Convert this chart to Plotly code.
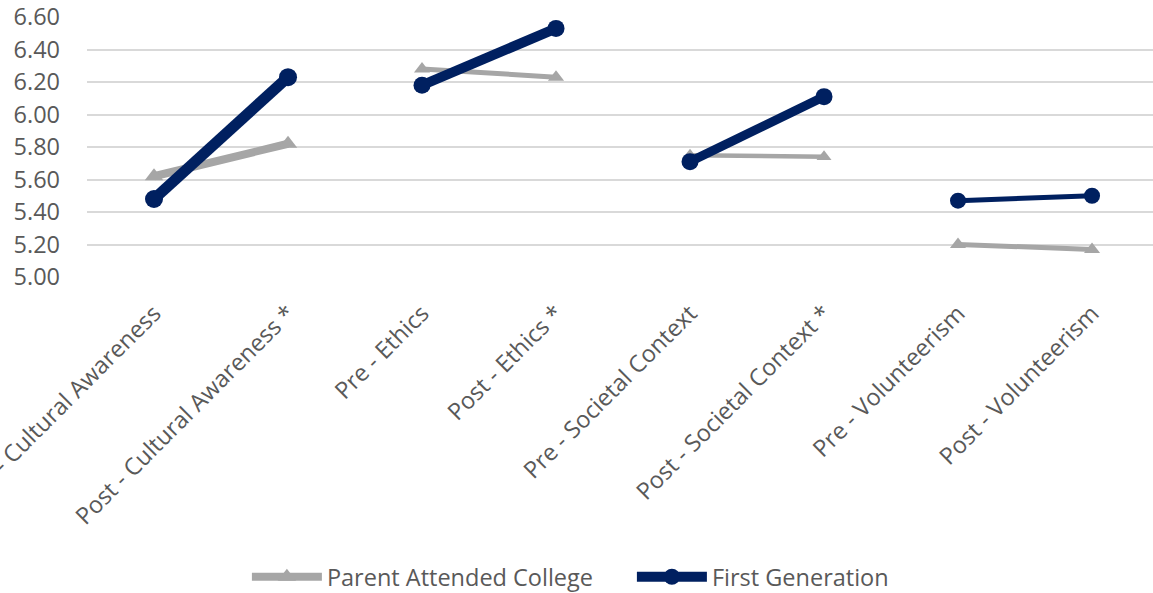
import plotly.graph_objects as go

# Survey means, pre/post pairs per domain
categories = [
    "Pre - Cultural Awareness", "Post - Cultural Awareness *",
    "Pre - Ethics", "Post - Ethics *",
    "Pre - Societal Context", "Post - Societal Context *",
    "Pre - Volunteerism", "Post - Volunteerism",
]
parent_attended = [5.62, 5.82, 6.28, 6.23, 5.75, 5.74, 5.20, 5.17]
first_generation = [5.48, 6.23, 6.18, 6.53, 5.71, 6.11, 5.47, 5.50]
y_ticks = [5.00, 5.20, 5.40, 5.60, 5.80, 6.00, 6.20, 6.40, 6.60]

GRAY = "#A6A6A6"
NAVY = "#002060"
TEXT = "#595959"
FONT = "'Open Sans', sans-serif"

# line width of each pre/post segment
gray_widths = [8, 5, 4.5, 5]
navy_widths = [11, 10, 9, 5]
gray_marker = [16, 14, 13, 14]
navy_marker = [18, 17, 17, 16]

fig = go.Figure()

for i in range(4):
    fig.add_trace(go.Scatter(
        x=categories[2 * i:2 * i + 2], y=parent_attended[2 * i:2 * i + 2],
        mode="lines+markers", name="Parent Attended College",
        legendgroup="parent", showlegend=(i == 0),
        line=dict(color=GRAY, width=gray_widths[i]),
        marker=dict(symbol="triangle-up", size=gray_marker[i], color=GRAY),
    ))
for i in range(4):
    fig.add_trace(go.Scatter(
        x=categories[2 * i:2 * i + 2], y=first_generation[2 * i:2 * i + 2],
        mode="lines+markers", name="First Generation",
        legendgroup="first", showlegend=(i == 0),
        line=dict(color=NAVY, width=navy_widths[i]),
        marker=dict(symbol="circle", size=navy_marker[i], color=NAVY),
    ))

fig.update_layout(
    width=1153, height=593,
    margin=dict(l=87, r=0, t=17, b=316, autoexpand=False),
    paper_bgcolor="white", plot_bgcolor="white",
    font=dict(family=FONT, color=TEXT, size=22),
    showlegend=True,
    legend=dict(
        orientation="h", x=0.15, xanchor="left",
        yref="container", y=0.027, yanchor="middle",
        font=dict(family=FONT, size=23.5, color=TEXT), itemwidth=70,
        entrywidth=300, traceorder="normal",
    ),
    xaxis=dict(
        type="category", categoryorder="array", categoryarray=categories,
        range=[-0.5, 7.455], tickangle=-45, showgrid=False, zeroline=False,
        showline=False, ticks="", automargin=False, ticklabelstandoff=17,
        tickfont=dict(family=FONT, size=23.5, color=TEXT),
    ),
    yaxis=dict(
        range=[5.0, 6.6], tickvals=y_ticks,
        ticktext=[f"{v:.2f}" for v in y_ticks],
        showgrid=True, gridcolor="#D9D9D9", gridwidth=2,
        zeroline=False, showline=False, ticks="", automargin=False,
        ticklabelstandoff=26, tickfont=dict(family=FONT, size=23.5, color=TEXT),
    ),
)

fig.write_html("out.html")
